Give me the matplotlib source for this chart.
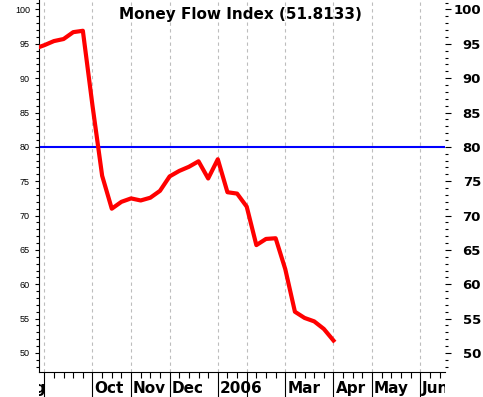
"""
Money Flow Index, weekly values Aug 2005 - Apr 2006.

Red MFI line with the 80 overbought level, month grid lines and
bold month / value labels on the bottom and right.
"""

import matplotlib
matplotlib.use('Agg')
import matplotlib.pyplot as plt
from matplotlib.ticker import FixedLocator, MultipleLocator
from matplotlib.transforms import (Bbox, TransformedBbox,
                                   blended_transform_factory, offset_copy)

plt.rcParams['font.family'] = ['Liberation Sans', 'DejaVu Sans']
BOLD = 'DejaVu Sans'

# ---------------------------------------------------------------------------
# Data  (x = week index, week 0 = first week of Sep 2005)
# ---------------------------------------------------------------------------
WEEKS = list(range(-1, 31))
MFI   = [94.3, 94.8, 95.4, 95.7, 96.7, 96.9, 86.0, 75.8, 71.0, 72.0,
         72.5, 72.2, 72.6, 73.6, 75.7, 76.5, 77.1, 77.9, 75.4, 78.2,
         73.4, 73.2, 71.3, 65.7, 66.6, 66.7, 62.2, 56.0, 55.1, 54.6,
         53.5, 51.8133]

OVERBOUGHT   = 80
MONTH_WEEKS  = [0, 5, 9, 13, 18, 21, 25, 30, 34, 39]      # grid + long ticks
LABEL_WEEKS  = [5, 9, 13, 18, 25, 30, 34, 39]
LABEL_TEXTS  = ['Oct', 'Nov', 'Dec', '2006', 'Mar', 'Apr', 'May', 'Jun']
FIRST_LABEL  = 'Aug'                                       # mostly cut off
Y_TICKS      = list(range(50, 101, 5))
LAST_VALUE   = MFI[-1]

# ---------------------------------------------------------------------------
# Figure
# ---------------------------------------------------------------------------
W, H = 483, 397
fig = plt.figure(figsize=(W / 100, H / 100), dpi=100)
ax = fig.add_axes([39 / W, 25 / H, 406 / W, 372 / H])
ax.set_xlim(-0.55, 41.57)
ax.set_ylim(47.23, 101.38)

for w in MONTH_WEEKS:
    ax.axvline(w, color='#bdbdbd', lw=0.8, ls=(0, (3, 3)), zorder=0)

ax.axhline(OVERBOUGHT, color='#0000ff', lw=1.5, zorder=2)
ax.plot(WEEKS, MFI, color='#ff0000', lw=3, zorder=3)

ax.text(0.497, 0.950, f'Money Flow Index ({LAST_VALUE:.4f})',
        transform=ax.transAxes, ha='center', va='baseline',
        fontsize=11, fontweight='bold', family=BOLD)

# spines
for side in ('top', 'right'):
    ax.spines[side].set_visible(False)
ax.spines['left'].set_linewidth(0.8)
ax.spines['bottom'].set_linewidth(0.8)

# x axis: weekly minor ticks, long month ticks, labels drawn as text
ax.xaxis.set_major_locator(FixedLocator(MONTH_WEEKS))
ax.xaxis.set_minor_locator(FixedLocator(range(0, 42)))
ax.tick_params(axis='x', which='major', length=20, width=0.8,
               labelbottom=False)
ax.tick_params(axis='x', which='minor', length=4.5, width=0.8)

clip = TransformedBbox(Bbox([[0, -1], [1, 0]]), ax.transAxes)
base = blended_transform_factory(ax.transData, ax.transAxes)
lab_y = -0.0556


def month_text(x, s, dx, ha):
    t = ax.text(x, lab_y, s, ha=ha, va='baseline', fontsize=11,
                fontweight='bold', family=BOLD,
                transform=offset_copy(base, fig=fig, x=dx, y=0, units='dots'))
    t.set_clip_path(None)
    t.set_clip_box(clip)
    t.set_clip_on(True)


month_text(0, FIRST_LABEL, 1.5, 'right')
for w, s in zip(LABEL_WEEKS, LABEL_TEXTS):
    month_text(w, s, 2, 'left')

# left y axis: small plain labels
ax.yaxis.set_major_locator(FixedLocator(Y_TICKS))
ax.yaxis.set_minor_locator(MultipleLocator(1))
ax.tick_params(axis='y', which='major', length=3, width=0.8, pad=3.6,
               labelsize=6.5)
ax.tick_params(axis='y', which='minor', length=2, width=0.8)

# right y axis: big bold labels
ax2 = ax.twinx()
ax2.set_ylim(ax.get_ylim())
for side in ax2.spines:
    ax2.spines[side].set_visible(False)
ax2.set_yticks(Y_TICKS)
ax2.set_yticklabels([str(v) for v in Y_TICKS], fontweight='bold',
                    family=BOLD, ha='right')
ax2.yaxis.set_minor_locator(MultipleLocator(1))
ax2.tick_params(axis='y', which='major', length=4.5, width=0.8, pad=21.4,
                labelsize=9.5)
ax2.tick_params(axis='y', which='minor', length=2.2, width=0.8)

fig.savefig('out.png', dpi=100)
